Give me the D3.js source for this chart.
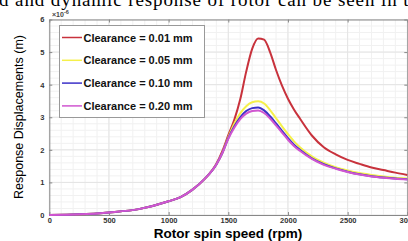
<!DOCTYPE html>
<html>
<head>
<meta charset="UTF-8">
<script src="https://cdn.jsdelivr.net/npm/d3@7"></script>
<style>
body { margin: 0; background: #fff; overflow: hidden; }
svg { display: block; }
.tick text { font-family: "Liberation Sans", Arial, sans-serif; font-weight: bold; font-size: 7.5px; fill: #333; }
.axis path, .axis line { stroke: #888; }
.grid line { stroke: #e4e4e4; }
.minor line { stroke: #f1f1f1; }
.curve { fill: none; stroke-width: 2px; }
</style>
</head>
<body>
<svg id="chart" width="408" height="241"></svg>
<script>
var rpm = [0, 250, 500, 750, 1000, 1100, 1200, 1300, 1400, 1450, 1500, 1550, 1600, 1650, 1700, 1750,
  1800, 1850, 1900, 1950, 2000, 2050, 2100, 2200, 2300, 2400, 2500, 2600, 2700, 2800, 2900, 3000];
var clear001 = [0, 0.02, 0.08, 0.18, 0.42, 0.55, 0.78, 1.1, 1.57, 1.96, 2.45, 2.92, 3.55, 4.4, 5.1, 5.42,
  5.38, 5.0, 4.45, 3.97, 3.57, 3.24, 2.96, 2.44, 2.08, 1.86, 1.69, 1.57, 1.46, 1.38, 1.30, 1.23];
var clear005 = [0, 0.02, 0.08, 0.18, 0.42, 0.55, 0.78, 1.1, 1.55, 1.9, 2.38, 2.8, 3.12, 3.34, 3.46, 3.49,
  3.42, 3.22, 2.97, 2.72, 2.48, 2.26, 2.08, 1.8, 1.61, 1.47, 1.37, 1.29, 1.23, 1.18, 1.14, 1.12];
var clear010 = [0, 0.02, 0.08, 0.18, 0.42, 0.55, 0.78, 1.1, 1.55, 1.9, 2.36, 2.72, 3.0, 3.19, 3.28, 3.30,
  3.21, 3.03, 2.81, 2.58, 2.36, 2.16, 2.0, 1.74, 1.56, 1.43, 1.33, 1.25, 1.19, 1.15, 1.12, 1.10];
var clear020 = [0, 0.02, 0.08, 0.18, 0.42, 0.55, 0.78, 1.1, 1.55, 1.9, 2.34, 2.68, 2.94, 3.11, 3.19, 3.21,
  3.13, 2.96, 2.75, 2.53, 2.31, 2.12, 1.97, 1.72, 1.54, 1.42, 1.32, 1.24, 1.18, 1.14, 1.11, 1.09];
var labels = ["Clearance = 0.01 mm", "Clearance = 0.05 mm", "Clearance = 0.10 mm", "Clearance = 0.20 mm"];
var colors = ["#c8323c", "#f5f04a", "#3c30c8", "#d056d0"];
var xTicks = [0, 500, 1000, 1500, 2000, 2500, 3000];
var yTicks = [0, 1, 2, 3, 4, 5, 6];

var svg = d3.select("#chart"),
  pLeft = 49.3, pRight = 407.3, pTop = 19.5, pBottom = 215,
  x = d3.scaleLinear().domain([0, 3000]).range([pLeft, pRight]),
  y = d3.scaleLinear().domain([0, 6]).range([pBottom, pTop]);

// clipped line of body text above the figure
svg.append("text")
  .attr("x", -1).attr("y", 6)
  .style("font-family", "'Liberation Serif', 'Times New Roman', serif")
  .style("font-size", "19px")
  .style("letter-spacing", "0.9px")
  .text("d and dynamic response of rotor can be seen in the");

// minor and major grid
svg.append("g").attr("class", "minor")
  .selectAll("line").data(d3.range(100, 3000, 100)).enter().append("line")
  .attr("x1", x).attr("x2", x).attr("y1", pTop).attr("y2", pBottom);
svg.append("g").attr("class", "minor")
  .selectAll("line").data(d3.range(0.2, 6, 0.2)).enter().append("line")
  .attr("y1", y).attr("y2", y).attr("x1", pLeft).attr("x2", pRight);
svg.append("g").attr("class", "grid")
  .selectAll("line").data(xTicks).enter().append("line")
  .attr("x1", x).attr("x2", x).attr("y1", pTop).attr("y2", pBottom);
svg.append("g").attr("class", "grid")
  .selectAll("line").data(yTicks).enter().append("line")
  .attr("y1", y).attr("y2", y).attr("x1", pLeft).attr("x2", pRight);

// axes box with inward ticks
svg.append("g").attr("class", "axis")
  .attr("transform", "translate(0," + pBottom + ")")
  .call(d3.axisBottom(x).tickValues(xTicks).tickSize(-3).tickSizeOuter(0).tickPadding(3).tickFormat(d3.format("d")));
svg.append("g").attr("class", "axis")
  .attr("transform", "translate(0," + pTop + ")")
  .call(d3.axisTop(x).tickValues(xTicks).tickSize(-3).tickSizeOuter(0).tickFormat(""));
svg.append("g").attr("class", "axis")
  .attr("transform", "translate(" + pLeft + ",0)")
  .call(d3.axisLeft(y).tickValues(yTicks).tickSize(-3).tickSizeOuter(0).tickPadding(5).tickFormat(d3.format("d")));
svg.append("g").attr("class", "axis")
  .attr("transform", "translate(" + pRight + ",0)")
  .call(d3.axisRight(y).tickValues(yTicks).tickSize(-3).tickSizeOuter(0).tickFormat(""));

svg.append("text")
  .attr("x", 52).attr("y", 17)
  .style("font-family", "'Liberation Sans', Arial, sans-serif")
  .style("font-size", "7px").style("font-weight", "bold").style("fill", "#444")
  .html("×10<tspan dy='-3' font-size='5.5px'>-6</tspan>");

// curves
var line = d3.line()
  .curve(d3.curveMonotoneX)
  .x(function(d){ return x(d[0]); })
  .y(function(d){ return y(d[1]); });
[clear001, clear005, clear010, clear020].forEach(function(vals, i){
  svg.append("path")
    .attr("class", "curve")
    .attr("stroke", colors[i])
    .attr("d", line(rpm.map(function(r, j){ return [r, vals[j]]; })));
});

// legend
var lg = svg.append("g");
lg.append("rect")
  .attr("x", 59.5).attr("y", 25.5).attr("width", 145).attr("height", 92)
  .attr("fill", "#fff").attr("stroke", "#999");
labels.forEach(function(t, i){
  var yy = 37.5 + i * 22.8;
  lg.append("line")
    .attr("x1", 62).attr("x2", 82).attr("y1", yy).attr("y2", yy)
    .attr("stroke", colors[i]).attr("stroke-width", 1.5);
  lg.append("text")
    .attr("x", 83.5).attr("y", yy + 4)
    .style("font-family", "'Liberation Sans', Arial, sans-serif")
    .style("font-size", "11px").style("font-weight", "bold").style("fill", "#111")
    .text(t);
});

// axis titles
svg.append("text")
  .attr("x", 228).attr("y", 237.5)
  .attr("text-anchor", "middle")
  .style("font-family", "'Liberation Sans', Arial, sans-serif")
  .style("font-size", "13.5px").style("font-weight", "bold")
  .text("Rotor spin speed (rpm)");
svg.append("text")
  .attr("transform", "translate(23,117) rotate(-90)")
  .attr("text-anchor", "middle")
  .style("font-family", "'Liberation Sans', Arial, sans-serif")
  .style("font-size", "12.5px")
  .text("Response Displacements (m)");
</script>
</body>
</html>
